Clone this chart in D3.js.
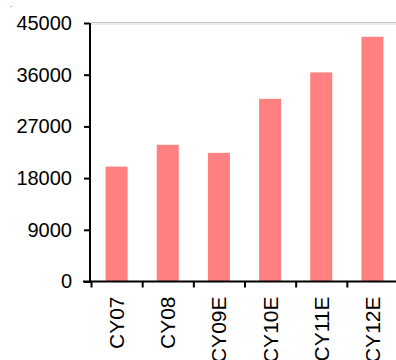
<!DOCTYPE html>
<html>
<head>
<meta charset="utf-8">
<script src="https://cdn.jsdelivr.net/npm/d3@7"></script>
<style>
  html, body { margin: 0; padding: 0; background: #fff; }
  svg { display: block; font-family: "Liberation Sans", Arial, sans-serif; }
</style>
</head>
<body>
<svg id="svg" width="396" height="360"></svg>
<script>
// data
const categories = ['CY07', 'CY08', 'CY09E', 'CY10E', 'CY11E', 'CY12E'];
const values     = [20000, 23800, 22400, 31800, 36400, 42600];
const yTicks     = [0, 9000, 18000, 27000, 36000, 45000];

const W = 396, H = 360;
const plotL = 91, plotR = 398, plotT = 23, plotB = 281.5;

const svg = d3.select('#svg');

const x = d3.scaleBand()
    .domain(categories)
    .range([plotL, plotR])
    .paddingInner(0.57)
    .paddingOuter(0.285);

const y = d3.scaleLinear()
    .domain([0, 45000])
    .range([plotB, plotT]);

// plot area top edge (light grey)
svg.append('line')
    .attr('x1', plotL).attr('x2', W)
    .attr('y1', plotT - 0.5).attr('y2', plotT - 0.5)
    .attr('stroke', '#c4c4c4').attr('stroke-width', 1);
svg.append('line')
    .attr('x1', plotL).attr('x2', W)
    .attr('y1', plotT + 1).attr('y2', plotT + 1)
    .attr('stroke', '#dcdcdc').attr('stroke-width', 1);

// bars
svg.append('g')
    .selectAll('rect')
    .data(categories.map((c, i) => ({ c, v: values[i] })))
    .join('rect')
    .attr('x', d => x(d.c))
    .attr('width', x.bandwidth())
    .attr('y', d => y(d.v))
    .attr('height', d => y(0) - y(d.v))
    .attr('fill', '#ff8080');

// y axis
const yAxis = svg.append('g')
    .attr('transform', `translate(${plotL - 1},0)`)
    .call(d3.axisLeft(y).tickValues(yTicks).tickSize(6).tickPadding(12).tickFormat(d3.format('d')));
yAxis.select('.domain').attr('stroke', '#000').attr('stroke-width', 2)
    .attr('d', `M0,${plotT}V${plotB + 1}`);
yAxis.selectAll('.tick line').attr('stroke', '#000').attr('stroke-width', 2);
yAxis.selectAll('.tick text')
    .attr('font-size', '20px')
    .attr('fill', '#000')
    .attr('font-family', '"Liberation Sans", Arial, sans-serif');

// x axis: boundary ticks
const xb = d3.scaleLinear().domain([0, categories.length]).range([plotL, plotR]);
const xAxis = svg.append('g')
    .attr('transform', `translate(0,${plotB})`)
    .call(d3.axisBottom(xb).tickValues(d3.range(categories.length)).tickSize(6).tickFormat(''));
xAxis.select('.domain').attr('stroke', '#000').attr('stroke-width', 2)
    .attr('d', `M${plotL - 8},0H${W}`);
xAxis.selectAll('.tick line').attr('stroke', '#000').attr('stroke-width', 2);

// x labels, rotated
const xLab = svg.append('g')
    .attr('transform', `translate(0,${plotB})`)
    .call(d3.axisBottom(x).tickSize(0).tickPadding(0));
xLab.select('.domain').remove();
xLab.selectAll('.tick text')
    .attr('font-size', '21px')
    .attr('fill', '#000')
    .attr('font-family', '"Liberation Sans", Arial, sans-serif')
    .attr('text-anchor', 'end')
    .attr('transform', 'rotate(-90)')
    .attr('x', -15)
    .attr('y', 0)
    .attr('dy', '0.36em');

// stray title dot
svg.append('text')
    .attr('x', 10).attr('y', 7)
    .attr('font-size', '8px')
    .text('.');
</script>
</body>
</html>
